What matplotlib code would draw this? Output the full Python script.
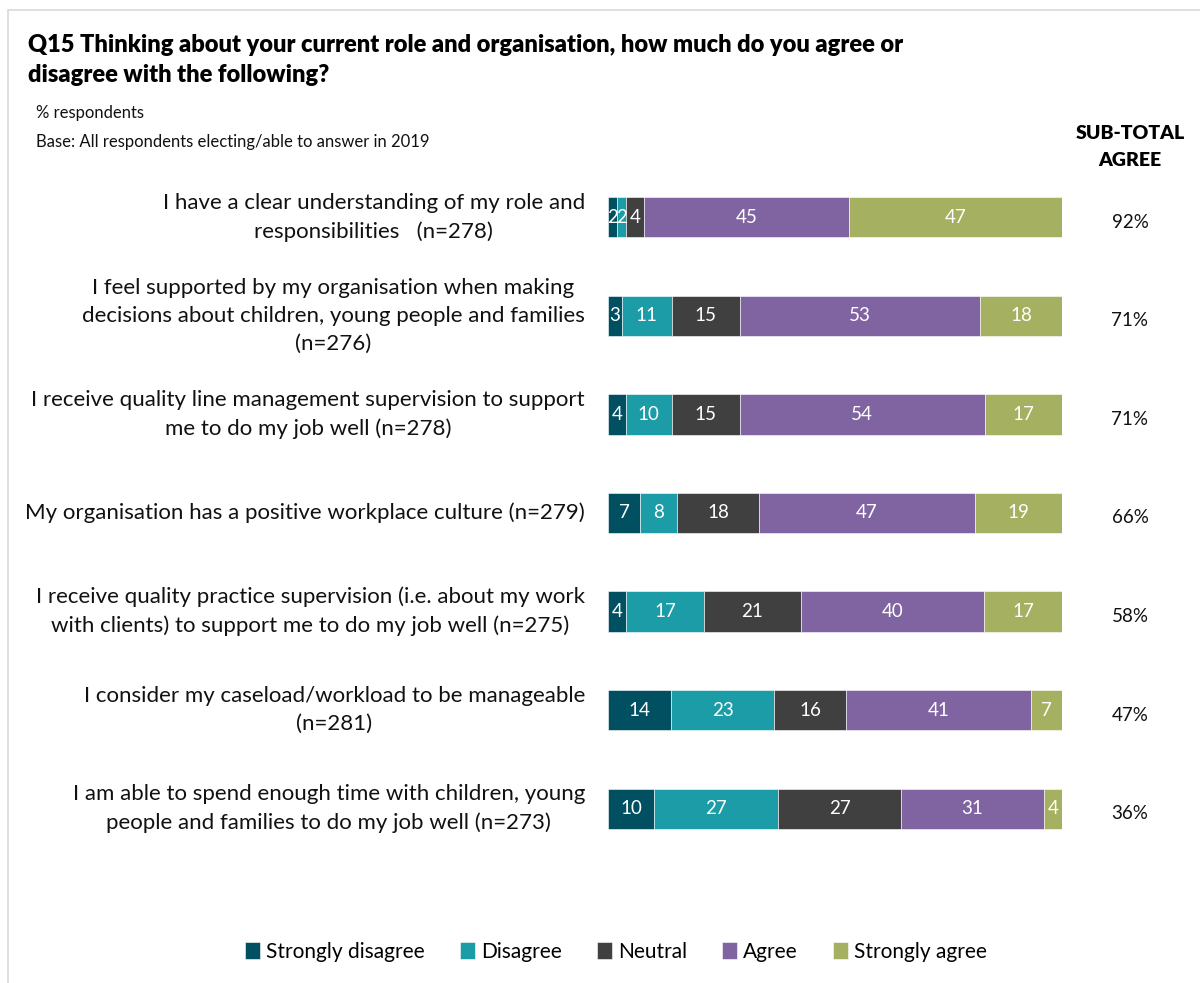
import numpy as np
import matplotlib.pyplot as plt
from matplotlib.patches import Rectangle

# ---- data ----
statements = [
    "I have a clear understanding of my role and\nresponsibilities   (n=278)",
    "I feel supported by my organisation when making\ndecisions about children, young people and families\n(n=276)",
    "I receive quality line management supervision to support\nme to do my job well (n=278)",
    "My organisation has a positive workplace culture (n=279)",
    "I receive quality practice supervision (i.e. about my work\nwith clients) to support me to do my job well (n=275)",
    "I consider my caseload/workload to be manageable\n(n=281)",
    "I am able to spend enough time with children, young\npeople and families to do my job well (n=273)",
]
series_names = ["Strongly disagree", "Disagree", "Neutral", "Agree", "Strongly agree"]
strongly_disagree = [2, 3, 4, 7, 4, 14, 10]
disagree = [2, 11, 10, 8, 17, 23, 27]
neutral = [4, 15, 15, 18, 21, 16, 27]
agree = [45, 53, 54, 47, 40, 41, 31]
strongly_agree = [47, 18, 17, 19, 17, 7, 4]
subtotal_agree = ["92%", "71%", "71%", "66%", "58%", "47%", "36%"]

colors = ["#005062", "#1b9ca7", "#404040", "#8064a2", "#a5b060"]

plt.rcParams['font.family'] = ['Lato', 'DejaVu Sans']

values = np.array([strongly_disagree, disagree, neutral, agree, strongly_agree], dtype=float)
# 100% stacked: each row scaled to its own total
shares = values / values.sum(axis=0) * 100

fig = plt.figure(figsize=(12, 9.83), dpi=100)
W, H = 1200, 983

# light frame round the chart area
fig.patches.append(Rectangle((8 / W, -0.01), 1.2, 1 - 10 / H + 0.01, transform=fig.transFigure,
                             fill=False, edgecolor="#d9d9d9", linewidth=1.2))

ax = fig.add_axes([608 / W, 1 - 858 / H, (1062 - 608) / W, (858 - 168) / H])
y = np.arange(len(statements))
left = np.zeros(len(statements))
for k in range(len(series_names)):
    ax.barh(y, shares[k], left=left, height=0.41, color=colors[k],
            edgecolor="white", linewidth=0.4, label=series_names[k])
    for i in range(len(statements)):
        ax.text(left[i] + shares[k][i] / 2, y[i], f"{int(values[k][i])}",
                ha="center", va="center", color="white", fontsize=13.5)
    left += shares[k]

ax.set_xlim(0, 100)
ax.set_ylim(len(statements) - 0.5, -0.5)
ax.axis("off")

for i, s in enumerate(statements):
    ax.text(-23 / 454 * 100, y[i], s, ha="right", va="center", multialignment="center",
            fontsize=16, color="#111111", linespacing=1.5)
    ax.text(100 + 68 / 454 * 100, y[i] + 0.05, subtotal_agree[i], ha="center", va="center",
            fontsize=13.5, color="#111111")

fig.text(28 / W, 1 - 60 / H, "Q15 Thinking about your current role and organisation, how much do you agree or\ndisagree with the following?",
         ha="left", va="center", fontsize=17, fontweight="heavy", linespacing=1.5, color="black")
fig.text(36 / W, 1 - 113 / H, "% respondents", ha="left", va="center", fontsize=12, color="#111111")
fig.text(36 / W, 1 - 142 / H, "Base: All respondents electing/able to answer in 2019", ha="left", va="center",
         fontsize=12, color="#111111")
fig.text(1130 / W, 1 - 147 / H, "SUB-TOTAL\nAGREE", ha="center", va="center", fontsize=14,
         fontweight="heavy", linespacing=1.75, color="black")

fig.legend(loc="center", bbox_to_anchor=(616 / W, 1 - 952 / H), ncol=5, frameon=False,
           fontsize=15, handlelength=0.7, handleheight=0.9, handletextpad=0.3, columnspacing=1.7)

fig.savefig("out.png", dpi=100)
